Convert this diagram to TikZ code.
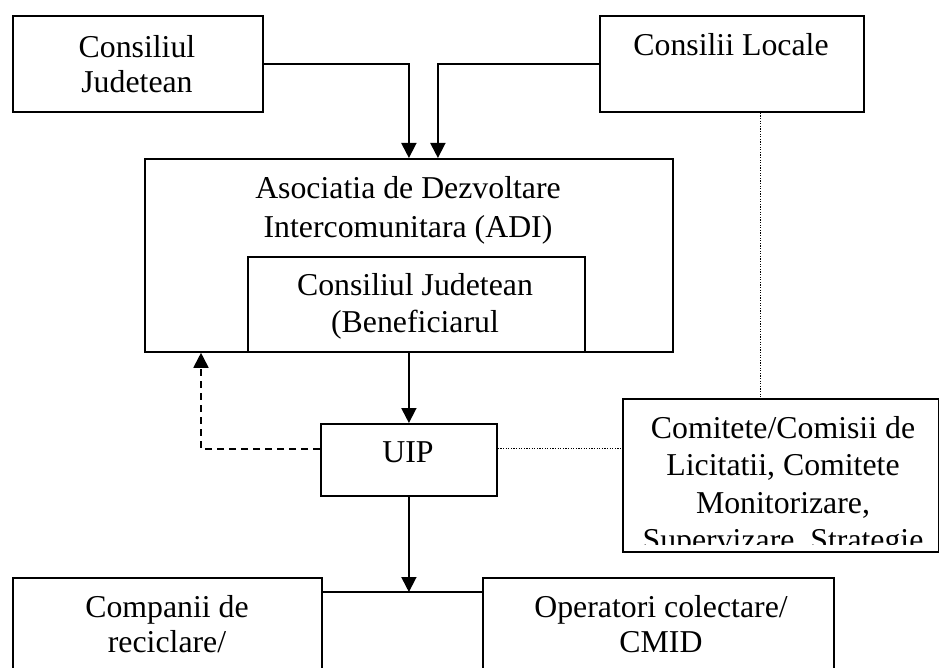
\documentclass[tikz,border=0pt]{standalone}
\usepackage{fontspec}
\setmainfont{Liberation Serif}
\usetikzlibrary{arrows.meta}
% body text size with a chosen line spacing
\newcommand\boxfont[1]{\fontsize{31.8pt}{#1}\selectfont}
\begin{document}
\begin{tikzpicture}[x=1pt,y=-1pt,
  box/.style={draw, line width=1.8pt, rectangle, inner sep=0pt, anchor=north west},
  lbl/.style={font=\boxfont{#1}, align=center, inner sep=0pt, anchor=north},
  lbl/.default=36.5pt,
  conn/.style={line width=1.8pt},
  arr/.style={conn, -{Triangle[width=15pt,length=15pt]}},
  dashline/.style={line width=1.8pt, dash pattern=on 7pt off 5pt, -{Triangle[width=15pt,length=15pt]}},
  dotline/.style={line width=1.1pt, dash pattern=on 1.2pt off 1.4pt}]
\useasboundingbox (0,0) rectangle (939,668);
\clip (0,0) rectangle (939,668);

% boxes
\node[box, minimum width=250pt, minimum height=96pt] (cj) at (12,15) {};
\node[box, minimum width=264pt, minimum height=96pt] (cl) at (599,15) {};
\node[box, minimum width=528pt, minimum height=193pt] (adi) at (144,158) {};
\node[box, minimum width=337pt, minimum height=95pt] (ben) at (247,256) {};
\node[box, minimum width=176pt, minimum height=72pt] (uip) at (320,423) {};
\node[box, minimum width=316pt, minimum height=153pt] (com) at (622,398) {};
\node[box, minimum width=309pt, minimum height=123pt] (rec) at (12,577) {};
\node[box, minimum width=351pt, minimum height=123pt] (op) at (482,577) {};

% texts
\node[lbl=35pt] (tcj) at (137,35.3) {Consiliul\\Judetean};
\node[lbl] (tcl) at (731,33.5) {Consilii Locale};
\node[lbl=38.5pt] (tadi) at (408,176.3) {Asociatia de Dezvoltare\\Intercomunitara (ADI)};
\node[lbl=37pt] (tben) at (415,273.3) {Consiliul Judetean\\(Beneficiarul};
\node[lbl] (tuip) at (408,441.5) {UIP};
\begin{scope}
  \clip (com.north west) rectangle ([yshift=8pt]com.south east);
  \node[lbl=37.3pt] (tcom) at (783,416.3) {Comitete/Comisii de\\Licitatii, Comitete\\Monitorizare,\\Supervizare, Strategie};
\end{scope}
\node[lbl=35pt] (trec) at (167,595.3) {Companii de\\reciclare/};
\node[lbl=35pt] (top) at (661,595.3) {Operatori colectare/\\CMID};

% connectors
\draw[arr] (cj.east) -| (adi.north);
\draw[arr] (cl.west) -| ([xshift=29pt]adi.north);
\draw[arr] (ben.south -| uip.north) -- (uip.north);
\coordinate (uipl) at ([yshift=11pt]uip.west);
\coordinate (uipr) at ([yshift=11pt]uip.east);
\draw[dashline] (uipl) -| ([xshift=57pt]adi.south west);
\draw[dotline] (uipr) -- (uipr -| com.west);
\coordinate (cld) at ([xshift=29pt]cl.south);
\draw[dotline] (cld) -- (cld |- com.north);
\coordinate (bl) at ([yshift=-15pt]rec.north east);
\coordinate (br) at (bl -| op.west);
\draw[conn] (bl) -- (br);
\draw[arr] (uip.south) -- (uip.south |- bl);
\end{tikzpicture}
\end{document}
